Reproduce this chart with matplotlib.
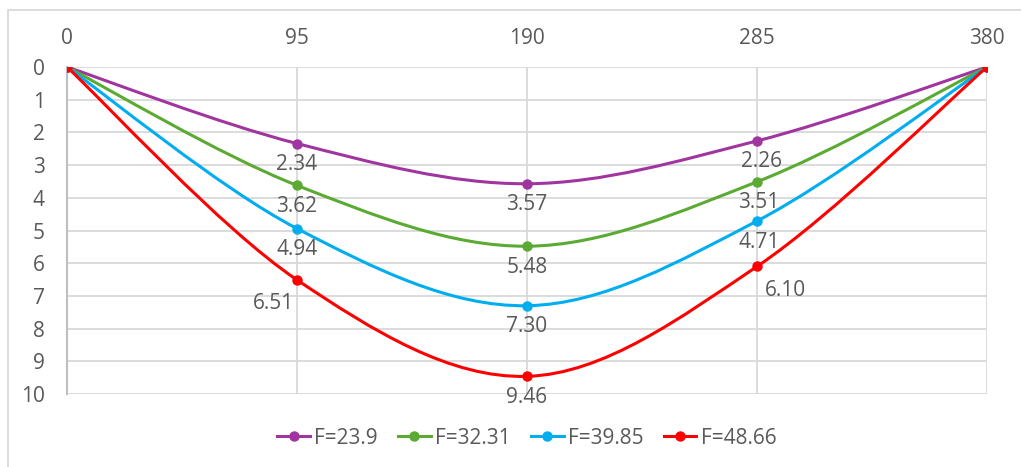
import numpy as np
import matplotlib.pyplot as plt
from matplotlib.path import Path
from matplotlib.patches import PathPatch
from matplotlib.lines import Line2D

# Данные
x = [0, 95, 190, 285, 380]
labels = ['F=23.9', 'F=32.31', 'F=39.85', 'F=48.66']
y_f1 = [0, 2.34, 3.57, 2.26, 0]
y_f2 = [0, 3.62, 5.48, 3.51, 0]
y_f3 = [0, 4.94, 7.30, 4.71, 0]
y_f4 = [0, 6.51, 9.46, 6.10, 0]
colors = ['#A0359F', '#5BAA33', '#00ADEF', '#FF0000']

series = [y_f1, y_f2, y_f3, y_f4]

# смещения подписей (пиксели) для точек 95, 190, 285
offsets = [
    [(0, -21), (0, -21), (5, -21)],
    [(0, -21), (0, -21), (2, -21)],
    [(0, -21), (0, -21), (2, -21)],
    [(-23, -24), (0, -21), (28, -24)],
]

TXT = '#595959'
GRID = '#D9D9D9'
FS = 15
plt.rcParams['font.family'] = ['Open Sans', 'DejaVu Sans']

fig = plt.figure(figsize=(10.21, 4.67), dpi=100)
ax = fig.add_axes([0.0656, 0.1563, 0.9011, 0.7002])

# рамка диаграммы (видны только верх и левый край)
fig.patches.append(plt.Rectangle((0.008, -0.05), 1.1, 0.029 + 1.0, transform=fig.transFigure,
                                 fill=False, edgecolor=GRID, lw=1.3))


def smooth_path(xs, ys):
    # сглаживание как в Excel (Catmull-Rom -> Безье)
    pts = np.column_stack([xs, ys]).astype(float)
    n = len(pts)
    verts = [pts[0]]
    codes = [Path.MOVETO]
    for i in range(n - 1):
        p0 = pts[i - 1] if i > 0 else pts[i]
        p1 = pts[i]
        p2 = pts[i + 1]
        p3 = pts[i + 2] if i + 2 < n else pts[i + 1]
        c1 = p1 + (p2 - p0) / 6
        c2 = p2 - (p3 - p1) / 6
        verts += [c1, c2, p2]
        codes += [Path.CURVE4] * 3
    return Path(verts, codes)


for ys, c, lab, offs in zip(series, colors, labels, offsets):
    ax.add_patch(PathPatch(smooth_path(x, ys), facecolor='none', edgecolor=c, lw=2.2, zorder=3))
    ax.plot(x, ys, 'o', color=c, ms=6.5, zorder=4)
    for xi, yi, off in zip(x[1:4], ys[1:4], offs):
        ax.annotate(f'{yi:.2f}', (xi, yi), xytext=off, textcoords='offset pixels',
                    ha='center', va='center', fontsize=FS, color=TXT, zorder=5)

ax.set_xlim(0, 380)
ax.set_ylim(10, 0)
ax.set_xticks(x)
ax.set_yticks(range(11))
ax.xaxis.tick_top()
ax.tick_params(length=0, labelsize=FS, colors=TXT)
ax.tick_params(axis='x', pad=13)
ax.tick_params(axis='y', pad=16)
ax.grid(True, color=GRID, lw=1.3)
ax.set_axisbelow(True)
for s in ax.spines.values():
    s.set_visible(False)
ax.spines['left'].set_visible(True)
ax.spines['left'].set_color('#BFBFBF')
ax.spines['left'].set_linewidth(1.5)

handles = [Line2D([0], [0], color=c, lw=2.2, marker='o', ms=6.5) for c in colors]
fig.legend(handles, labels, loc='center', bbox_to_anchor=(0.516, 0.062), ncol=4, frameon=False,
           fontsize=FS, labelcolor=TXT, handlelength=1.55, handletextpad=0.2, columnspacing=1.0)

fig.savefig('out.png', dpi=100)
